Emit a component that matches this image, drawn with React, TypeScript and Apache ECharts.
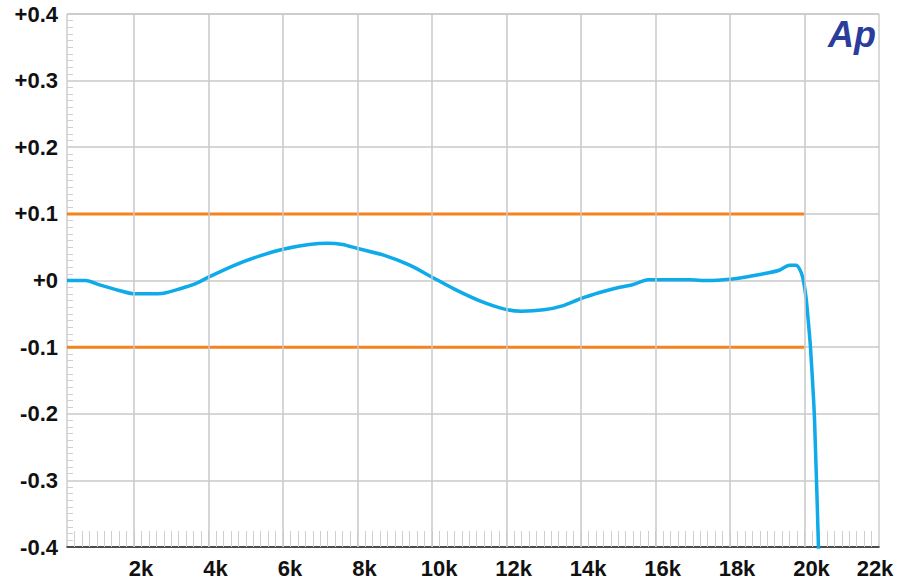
import React, { useEffect, useRef } from "react";
import * as echarts from "echarts";

const xLabelValues = [2000, 4000, 6000, 8000, 10000, 12000, 14000, 16000, 18000, 20000, 22000];
const gridXValues = [2000, 4000, 6000, 8000, 10000, 12000, 14000, 16000, 18000, 20000];
const minorXTicks: number[] = [];
for (let v = 400; v < 22000; v += 200) minorXTicks.push(v);

const responseFreq = [200, 700, 1100, 1600, 2000, 2400, 2800, 3200, 3600, 4000, 4660, 5380, 6000, 6700, 7200, 7600, 8000, 8700, 9400, 10000, 10600, 11300, 11950, 12400, 13000, 13500, 14000, 14500, 14900, 15400, 15800, 16400, 16900, 17400, 18000, 18500, 18800, 19300, 19600, 19770, 19860, 19950, 20040, 20100, 20160, 20270, 20400];
const responseDb = [0, 0, -0.007, -0.015, -0.02, -0.02, -0.019, -0.013, -0.006, 0.005, 0.022, 0.037, 0.047, 0.054, 0.056, 0.054, 0.048, 0.038, 0.023, 0.005, -0.013, -0.031, -0.043, -0.046, -0.044, -0.038, -0.027, -0.018, -0.012, -0.006, 0.001, 0.001, 0.001, 0.0, 0.002, 0.006, 0.009, 0.015, 0.023, 0.023, 0.018, 0.005, -0.025, -0.06, -0.1, -0.21, -0.45];

const upperLimit = [[200, 0.1], [20000, 0.1]];
const lowerLimit = [[200, -0.1], [20000, -0.1]];

export default function App() {
  const ref = useRef<HTMLDivElement>(null);
  useEffect(() => {
    document.body.style.margin = "0";
    const chart = echarts.init(ref.current!, null, { renderer: "svg" });
    const font = "Arial, 'Liberation Sans', sans-serif";
    const fs = 22;
    chart.setOption({
      animation: false,
      backgroundColor: "#ffffff",
      grid: {
        left: 67,
        right: 30,
        top: 14,
        bottom: 35,
        show: true,
        borderColor: "#b4b4b4",
        borderWidth: 1,
      },
      xAxis: {
        type: "value",
        min: 200,
        max: 22000,
        axisLine: { show: true, onZero: false, lineStyle: { color: "#222", width: 1.5 } },
        splitLine: { show: false },
        axisTick: {
          show: true,
          inside: true,
          length: 16,
          customValues: minorXTicks,
          lineStyle: { color: "#cfcfcf", width: 1 },
        },
        axisLabel: {
          customValues: xLabelValues,
          margin: 10,
          fontFamily: font,
          fontWeight: "bold",
          fontSize: fs,
          color: "#111",
          formatter: (v: number) =>
            v === 22000 ? "{l|" + v / 1000 + "k}" : "{n|" + v / 1000 + "k}",
          rich: {
            n: { fontFamily: font, fontWeight: "bold", fontSize: fs, color: "#111", padding: [0, 0, 0, 14] },
            l: { fontFamily: font, fontWeight: "bold", fontSize: fs, color: "#111", padding: [0, 8, 0, 0] },
          },
        },
      },
      yAxis: {
        type: "value",
        min: -0.4,
        max: 0.4,
        interval: 0.1,
        axisLine: { show: false },
        axisTick: { show: false, inside: true },
        minorTick: { show: true, splitNumber: 10, length: 6, lineStyle: { color: "#cfcfcf", width: 1 } },
        splitLine: { show: true, lineStyle: { color: "#c8c8c8", width: 1.5 } },
        axisLabel: {
          margin: 9,
          fontFamily: font,
          fontWeight: "bold",
          fontSize: fs,
          color: "#111",
          padding: [4, 0, 0, 0],
          formatter: (v: number) => {
            const r = Math.round(v * 10) / 10;
            if (r === 0) return "+0";
            return r > 0 ? "+" + r.toFixed(1) : r.toFixed(1);
          },
        },
      },
      graphic: [
        {
          type: "text",
          right: 33,
          top: 16,
          style: {
            text: "Ap",
            fontFamily: font,
            fontWeight: "bold",
            fontStyle: "italic",
            fontSize: 36,
            fill: "#2b3d9c",
          },
        },
      ],
      series: [
        {
          type: "line",
          data: [],
          silent: true,
          z: 1,
          markLine: {
            silent: true,
            symbol: "none",
            label: { show: false },
            lineStyle: { color: "#c8c8c8", width: 1.5, type: "solid" },
            data: gridXValues.map((v) => ({ xAxis: v })),
          },
        },
        {
          type: "line",
          data: upperLimit,
          showSymbol: false,
          z: 3,
          lineStyle: { color: "#f5821f", width: 3 },
        },
        {
          type: "line",
          data: lowerLimit,
          showSymbol: false,
          z: 3,
          lineStyle: { color: "#f5821f", width: 3 },
        },
        {
          type: "line",
          data: responseFreq.map((f, i) => [f, responseDb[i]]),
          showSymbol: false,
          smooth: 0.25,
          z: 4,
          lineStyle: { color: "#0eaaea", width: 3.5 },
        },
      ],
    });
    return () => chart.dispose();
  }, []);
  return <div ref={ref} style={{ width: 909, height: 582 }} />;
}
